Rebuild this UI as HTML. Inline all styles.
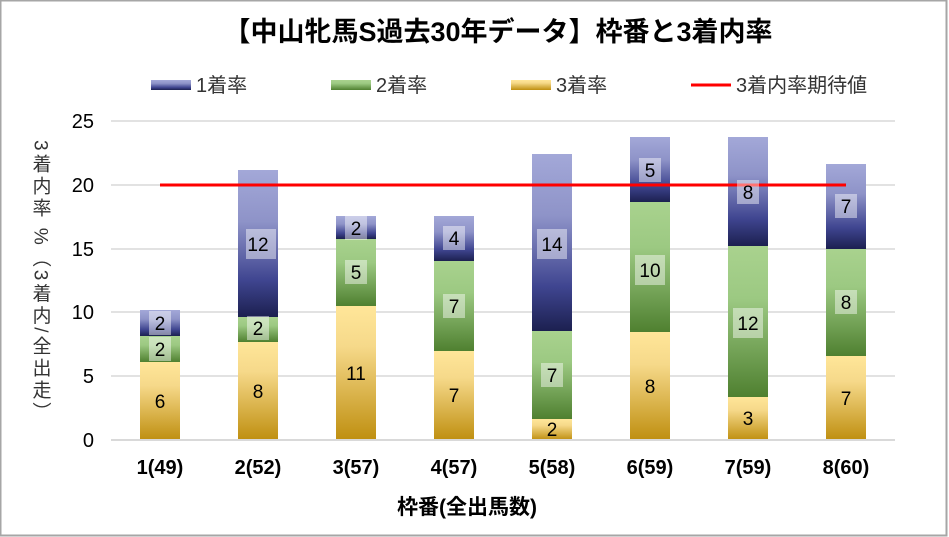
<!DOCTYPE html>
<html><head><meta charset="utf-8"><style>
body{margin:0;background:#fff}
svg{display:block;font-family:"Liberation Sans","Noto Sans CJK JP",sans-serif}
</style></head><body>
<svg width="949" height="537" viewBox="0 0 949 537">
<defs>
<linearGradient id="g1" x1="0" y1="0" x2="0" y2="1"><stop offset="0" stop-color="#a3a8d8"/><stop offset="0.35" stop-color="#8e93c8"/><stop offset="0.75" stop-color="#3f4590"/><stop offset="1" stop-color="#1c2050"/></linearGradient>
<linearGradient id="g2" x1="0" y1="0" x2="0" y2="1"><stop offset="0" stop-color="#a9d28e"/><stop offset="0.35" stop-color="#9cc982"/><stop offset="1" stop-color="#4f8030"/></linearGradient>
<linearGradient id="g3" x1="0" y1="0" x2="0" y2="1"><stop offset="0" stop-color="#ffe699"/><stop offset="0.3" stop-color="#f6d98a"/><stop offset="1" stop-color="#bf8f10"/></linearGradient>
</defs>
<rect x="0.5" y="0.5" width="946" height="535" fill="#fff" stroke="#a6a6a6" stroke-width="2"/>
<text x="498" y="41" text-anchor="middle" font-size="27" font-weight="bold" fill="#000">【中山牝馬S過去30年データ】枠番と3着内率</text>
<rect x="151" y="80" width="40" height="10" fill="url(#g1)"/><text x="196" y="92" font-size="20" fill="#333">1着率</text>
<rect x="331" y="80" width="40" height="10" fill="url(#g2)"/><text x="376" y="92" font-size="20" fill="#333">2着率</text>
<rect x="511" y="80" width="40" height="10" fill="url(#g3)"/><text x="556" y="92" font-size="20" fill="#333">3着率</text>
<line x1="691" y1="85" x2="731" y2="85" stroke="#f00" stroke-width="3"/><text x="736" y="92" font-size="20" fill="#333">3着内率期待値</text>
<g stroke="#d9d9d9" stroke-width="1.5">
<line x1="111" y1="121" x2="895" y2="121"/><line x1="111" y1="185" x2="895" y2="185"/><line x1="111" y1="249" x2="895" y2="249"/><line x1="111" y1="312" x2="895" y2="312"/><line x1="111" y1="376" x2="895" y2="376"/><line x1="111" y1="440" x2="895" y2="440"/>
</g>
<g font-size="20" fill="#000" text-anchor="end">
<text x="94" y="128">25</text><text x="94" y="192">20</text><text x="94" y="256">15</text><text x="94" y="319">10</text><text x="94" y="383">5</text><text x="94" y="447">0</text>
</g>
<text x="40" y="140" style="writing-mode:vertical-rl;text-orientation:mixed;letter-spacing:3px" font-size="19" fill="#333">3着内率 %（3着内/全出走）</text>
<g>
<rect x="140" y="362" width="40" height="78" fill="url(#g3)"/><rect x="140" y="336" width="40" height="26" fill="url(#g2)"/><rect x="140" y="310" width="40" height="26" fill="url(#g1)"/>
<rect x="238" y="342" width="40" height="98" fill="url(#g3)"/><rect x="238" y="317" width="40" height="25" fill="url(#g2)"/><rect x="238" y="170" width="40" height="147" fill="url(#g1)"/>
<rect x="336" y="306" width="40" height="134" fill="url(#g3)"/><rect x="336" y="239" width="40" height="67" fill="url(#g2)"/><rect x="336" y="216" width="40" height="23" fill="url(#g1)"/>
<rect x="434" y="351" width="40" height="89" fill="url(#g3)"/><rect x="434" y="261" width="40" height="90" fill="url(#g2)"/><rect x="434" y="216" width="40" height="45" fill="url(#g1)"/>
<rect x="532" y="419" width="40" height="21" fill="url(#g3)"/><rect x="532" y="331" width="40" height="88" fill="url(#g2)"/><rect x="532" y="154" width="40" height="177" fill="url(#g1)"/>
<rect x="630" y="332" width="40" height="108" fill="url(#g3)"/><rect x="630" y="202" width="40" height="130" fill="url(#g2)"/><rect x="630" y="137" width="40" height="65" fill="url(#g1)"/>
<rect x="728" y="397" width="40" height="43" fill="url(#g3)"/><rect x="728" y="246" width="40" height="151" fill="url(#g2)"/><rect x="728" y="137" width="40" height="109" fill="url(#g1)"/>
<rect x="826" y="356" width="40" height="84" fill="url(#g3)"/><rect x="826" y="249" width="40" height="107" fill="url(#g2)"/><rect x="826" y="164" width="40" height="85" fill="url(#g1)"/>
</g>
<line x1="111" y1="440" x2="895" y2="440" stroke="#d9d9d9" stroke-width="2"/>
<line x1="160" y1="185" x2="846" y2="185" stroke="#f00" stroke-width="3"/>
<g fill="#fff" fill-opacity="0.45">
<rect x="149" y="311" width="22" height="24"/><rect x="149" y="337" width="22" height="24"/>
<rect x="246" y="229" width="30" height="30"/><rect x="247" y="316" width="22" height="24"/>
<rect x="345" y="216" width="22" height="24"/><rect x="345" y="260" width="22" height="24"/>
<rect x="443" y="226" width="22" height="24"/><rect x="443" y="294" width="22" height="24"/>
<rect x="537" y="229" width="30" height="30"/><rect x="541" y="363" width="22" height="24"/>
<rect x="639" y="158" width="22" height="24"/><rect x="635" y="255" width="30" height="30"/>
<rect x="737" y="180" width="22" height="24"/><rect x="733" y="308" width="30" height="30"/>
<rect x="835" y="194" width="22" height="24"/><rect x="835" y="290" width="22" height="24"/>
</g>
<g font-size="19" fill="#000" text-anchor="middle">
<text x="160" y="330">2</text><text x="160" y="356">2</text><text x="160" y="408">6</text>
<text x="258" y="251">12</text><text x="258" y="335">2</text><text x="258" y="398">8</text>
<text x="356" y="235">2</text><text x="356" y="279">5</text><text x="356" y="380">11</text>
<text x="454" y="245">4</text><text x="454" y="313">7</text><text x="454" y="402">7</text>
<text x="552" y="251">14</text><text x="552" y="382">7</text><text x="552" y="436">2</text>
<text x="650" y="177">5</text><text x="650" y="277">10</text><text x="650" y="393">8</text>
<text x="748" y="199">8</text><text x="748" y="330">12</text><text x="748" y="425">3</text>
<text x="846" y="213">7</text><text x="846" y="309">8</text><text x="846" y="405">7</text>
</g>
<g font-size="20" font-weight="bold" fill="#000" text-anchor="middle">
<text x="160" y="474">1(49)</text><text x="258" y="474">2(52)</text><text x="356" y="474">3(57)</text><text x="454" y="474">4(57)</text><text x="552" y="474">5(58)</text><text x="650" y="474">6(59)</text><text x="748" y="474">7(59)</text><text x="846" y="474">8(60)</text>
</g>
<text x="467" y="514" text-anchor="middle" font-size="21" font-weight="bold" fill="#000">枠番(全出馬数)</text>
</svg>
</body></html>
